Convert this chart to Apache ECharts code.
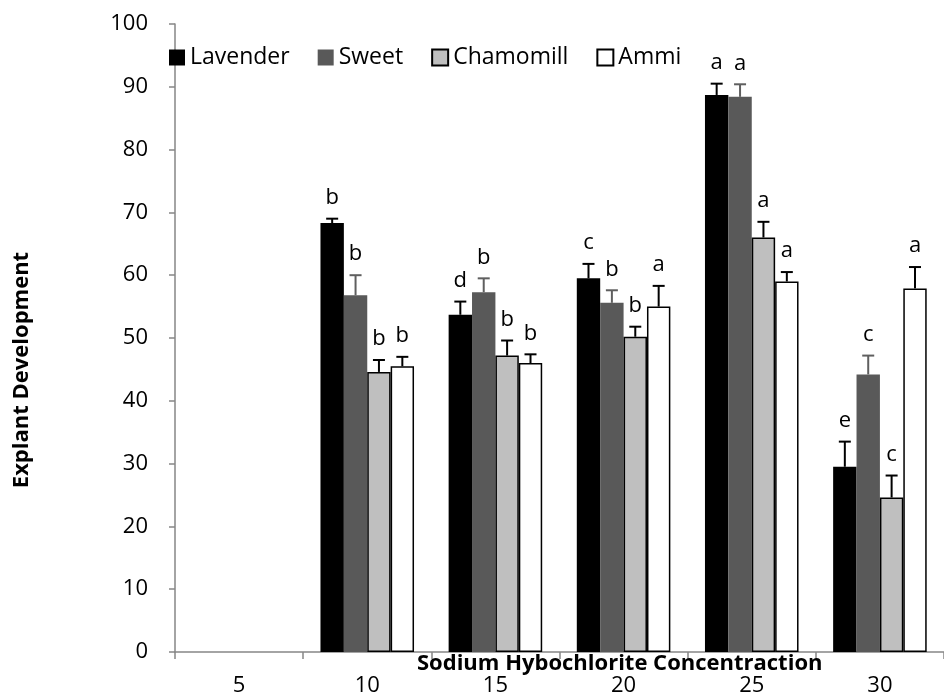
<!DOCTYPE html>
<html>
<head>
<meta charset="utf-8">
<script src="https://cdn.jsdelivr.net/npm/echarts@6/dist/echarts.min.js"></script>
<style>
html,body{margin:0;padding:0;background:#fff;}
#chart{width:944px;height:698px;}
</style>
</head>
<body>
<div id="chart"></div>
<script>
const categories = ['5', '10', '15', '20', '25', '30'];
const seriesNames = ['Lavender', 'Sweet', 'Chamomill', 'Ammi'];

const lavender  = [null, 68.3, 53.7, 59.5, 88.7, 29.5];
const sweet     = [null, 56.8, 57.3, 55.6, 88.4, 44.2];
const chamomill = [null, 44.6, 47.2, 50.2, 66.0, 24.6];
const ammi      = [null, 45.5, 46.0, 55.0, 59.0, 57.9];

const lavenderErr  = [null, 0.7, 2.1, 2.3, 1.8, 4.0];
const sweetErr     = [null, 3.2, 2.2, 2.0, 2.0, 3.0];
const chamomillErr = [null, 1.9, 2.4, 1.6, 2.5, 3.5];
const ammiErr      = [null, 1.5, 1.4, 3.3, 1.5, 3.4];

const lavenderLetters  = ['', 'b', 'd', 'c', 'a', 'e'];
const sweetLetters     = ['', 'b', 'b', 'b', 'a', 'c'];
const chamomillLetters = ['', 'b', 'b', 'b', 'a', 'c'];
const ammiLetters      = ['', 'b', 'b', 'a', 'a', 'a'];

const yTicks = [0, 10, 20, 30, 40, 50, 60, 70, 80, 90, 100];

const values = [lavender, sweet, chamomill, ammi];
const errors = [lavenderErr, sweetErr, chamomillErr, ammiErr];
const letters = [lavenderLetters, sweetLetters, chamomillLetters, ammiLetters];

const fills = ['#000000', '#595959', '#bfbfbf', '#ffffff'];
const borders = ['#000000', '#595959', '#000000', '#000000'];
const borderWidths = [0, 0, 1.5, 1.5];
const errColors = ['#000000', '#5f5f5f', '#000000', '#000000'];

const GAP = 0.27;
const FONT = '"Open Sans", "Noto Sans", sans-serif';

const chart = echarts.init(document.getElementById('chart'), null, {renderer: 'canvas'});

const barSeries = seriesNames.map((name, k) => ({
  name: name,
  type: 'bar',
  data: values[k],
  barGap: '0%',
  barCategoryGap: (GAP * 100) + '%',
  itemStyle: {color: fills[k], borderColor: borders[k], borderWidth: borderWidths[k]},
  emphasis: {disabled: true},
  z: 2
}));

const errSeries = seriesNames.map((name, k) => ({
  name: name + ' err',
  type: 'custom',
  z: 5,
  clip: false,
  silent: true,
  data: categories.map((c, i) => [i, values[k][i], errors[k][i], letters[k][i]]).filter(d => d[1] != null),
  renderItem: function (params, api) {
    const idx = api.value(0);
    const v = api.value(1);
    const e = api.value(2);
    const letter = letters[k][idx];
    const band = api.size([1, 0])[0];
    const group = band * (1 - GAP);
    const bw = group / 4;
    const center = api.coord([idx, v]);
    const x = center[0] - group / 2 + bw * (k + 0.5);
    const yTop = api.coord([idx, v + e])[1];
    const yBar = center[1];
    const capHalf = 6;
    const style = {stroke: errColors[k], lineWidth: 2};
    return {
      type: 'group',
      children: [
        {type: 'line', shape: {x1: x, y1: yBar, x2: x, y2: yTop}, style: style},
        {type: 'line', shape: {x1: x - capHalf, y1: yTop, x2: x + capHalf, y2: yTop}, style: style},
        {type: 'text', style: {text: letter, x: x, y: yTop - 10, align: 'center', verticalAlign: 'bottom',
          font: '22px ' + FONT, fill: '#000'}}
      ]
    };
  }
}));

const option = {
  animation: false,
  backgroundColor: '#fff',
  textStyle: {fontFamily: FONT},
  legend: {
    data: seriesNames,
    left: 164,
    top: 41,
    itemWidth: 16,
    itemHeight: 16,
    itemGap: 28,
    icon: 'rect',
    textStyle: {fontSize: 23, color: '#000', fontFamily: FONT},
    selectedMode: false
  },
  grid: {left: 175, right: -10, top: 24, bottom: 46, containLabel: false},
  xAxis: {
    type: 'category',
    data: categories,
    boundaryGap: true,
    axisLine: {lineStyle: {color: '#868686', width: 1.5}},
    axisTick: {show: true, inside: false, length: 7, lineStyle: {color: '#868686', width: 1.5}},
    axisLabel: {fontSize: 22, color: '#000', margin: 23, fontFamily: FONT}
  },
  yAxis: {
    type: 'value',
    min: yTicks[0],
    max: yTicks[yTicks.length - 1],
    interval: yTicks[1] - yTicks[0],
    splitLine: {show: false},
    axisLine: {show: true, lineStyle: {color: '#868686', width: 1.5}},
    axisTick: {show: true, inside: false, length: 6, lineStyle: {color: '#868686', width: 1.5}},
    axisLabel: {fontSize: 22, color: '#000', margin: 27, fontFamily: FONT}
  },
  graphic: [
    {type: 'text', left: 417, top: 653, z: 10,
      style: {text: 'Sodium Hybochlorite Concentraction', font: 'bold 22px ' + FONT, fill: '#000'}},
    {type: 'text', x: 22, y: 370, rotation: Math.PI / 2, z: 10,
      style: {text: 'Explant Development', font: 'bold 22px ' + FONT, fill: '#000', align: 'center', verticalAlign: 'middle'}}
  ],
  series: barSeries.concat(errSeries)
};

chart.setOption(option);
</script>
</body>
</html>
